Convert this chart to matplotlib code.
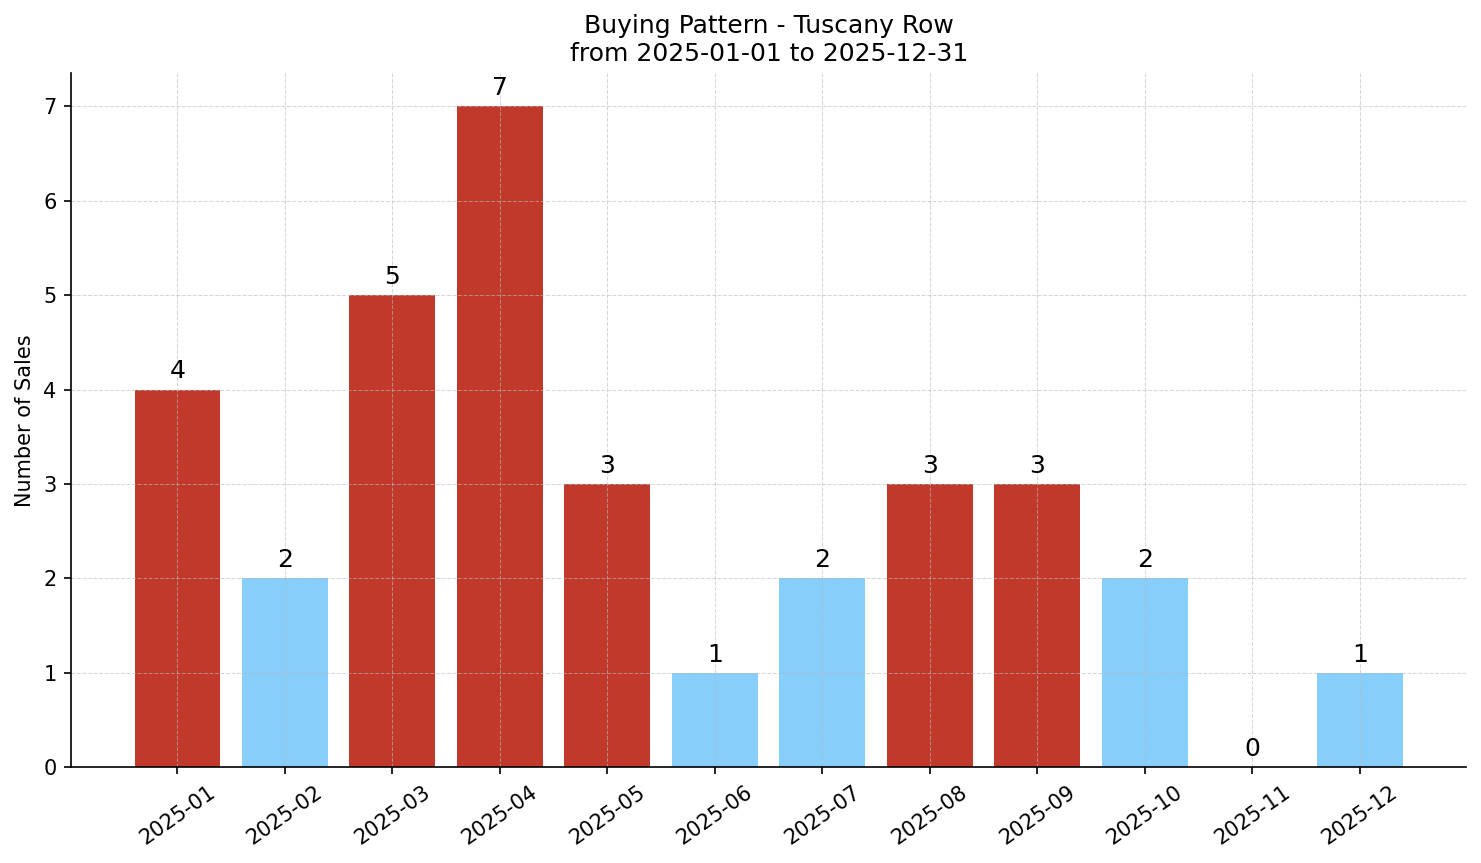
import matplotlib
matplotlib.use("Agg")
import matplotlib.pyplot as plt
import numpy as np

months = ["2025-01", "2025-02", "2025-03", "2025-04", "2025-05", "2025-06",
          "2025-07", "2025-08", "2025-09", "2025-10", "2025-11", "2025-12"]
sales = [4, 2, 5, 7, 3, 1, 2, 3, 3, 2, 0, 1]

high_color = "#c0392b"
low_color = "#87cefa"

# months above the average get the red colour
avg = np.mean(sales)
colors = [high_color if s > avg else low_color for s in sales]

fig, ax = plt.subplots(figsize=(1481 / 150, 863 / 150), dpi=150)
x = np.arange(len(months))
bars = ax.bar(x, sales, color=colors, width=0.8)
ax.bar_label(bars, padding=3, fontsize=12)

ax.set_xticks(x)
ax.set_xticklabels(months, rotation=35, ha="center", fontsize=10)
ax.tick_params(axis="y", labelsize=10)
ax.set_ylabel("Number of Sales", fontsize=10)
ax.set_title("Buying Pattern - Tuscany Row\nfrom 2025-01-01 to 2025-12-31", fontsize=12)

ax.grid(True, linestyle="--", linewidth=0.5, color="#bbbbbb", alpha=0.6)
ax.spines["top"].set_visible(False)
ax.spines["right"].set_visible(False)

plt.subplots_adjust(left=0.048, right=0.99, bottom=0.111, top=0.915)
plt.savefig("out.png", dpi=150)
